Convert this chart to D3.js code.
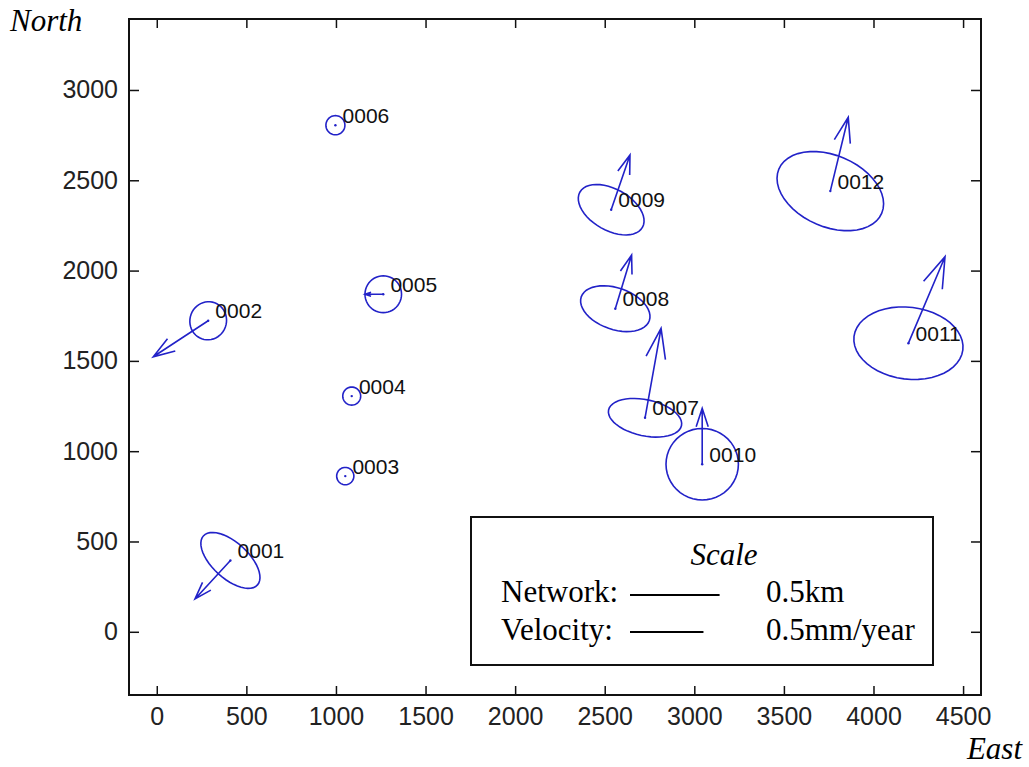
<!DOCTYPE html>
<html>
<head>
<meta charset="utf-8">
<script src="https://cdn.jsdelivr.net/npm/d3@7"></script>
<style>
  body { margin: 0; background: #fff; }
  svg { display: block; }
  .tick text { font-family: "Liberation Sans", Arial, sans-serif; font-size: 25px; fill: #222; }
  .tick line { stroke: #111; stroke-width: 1.5; }
  .serif { font-family: "Liberation Serif", "Times New Roman", serif; fill: #000; }
</style>
</head>
<body>
<svg id="chart" width="1029" height="767"></svg>
<script>
// station data, metres (east / north), error ellipses in metres, velocities in mm/year
var stations = ["0001", "0002", "0003", "0004", "0005", "0006", "0007", "0008", "0009", "0010", "0011", "0012"];
var east = [411, 287, 1052, 1088, 1264, 997, 2725, 2559, 2536, 3044, 4195, 3759];
var north = [395, 1722, 862, 1305, 1869, 2805, 1185, 1789, 2337, 928, 1598, 2440];
var semiMajor = [203, 106, 48, 50, 102, 53, 208, 201, 200, 202, 306, 312];
var semiMinor = [100, 102, 48, 50, 102, 53, 100, 115, 115, 198, 199, 198];
var ellipseAngle = [-42, 70, 0, 0, 0, 0, -12, -19, -29, 0, -7, -23];
var velEast = [-0.241, -0.374, 0, 0, -0.124, 0, 0.109, 0.111, 0.128, 0, 0.249, 0.122];
var velNorth = [-0.260, -0.243, 0, 0, 0, 0, 0.604, 0.362, 0.370, 0.377, 0.584, 0.499];

var xTicks = [0, 500, 1000, 1500, 2000, 2500, 3000, 3500, 4000, 4500];
var yTicks = [0, 500, 1000, 1500, 2000, 2500, 3000];

var networkScale = 500;   // 0.5 km
var velocityScale = 0.5;  // 0.5 mm/year
var velToMetres = 820;    // drawing length of 1 mm/year, in metres

var blue = "#2222c8";
var svg = d3.select("#chart");

var plotLeft = 129, plotRight = 981, plotTop = 19, plotBottom = 695;

var x = d3.scaleLinear().domain([-155, 4600]).range([plotLeft, plotRight]);
var y = d3.scaleLinear().domain([-350, 3393]).range([plotBottom, plotTop]);
var fmt = d3.format("d");

// axes, ticks pointing inwards
svg.append("g")
    .attr("transform", "translate(0," + plotBottom + ")")
    .call(d3.axisBottom(x).tickValues(xTicks).tickFormat(fmt).tickSizeInner(-9).tickSizeOuter(0).tickPadding(12))
    .select(".domain").remove();
svg.append("g")
    .attr("transform", "translate(0," + plotTop + ")")
    .call(d3.axisTop(x).tickValues(xTicks).tickSizeInner(-9).tickSizeOuter(0).tickFormat(""))
    .select(".domain").remove();
svg.append("g")
    .attr("transform", "translate(" + plotLeft + ",0)")
    .call(d3.axisLeft(y).tickValues(yTicks).tickFormat(fmt).tickSizeInner(-10).tickSizeOuter(0).tickPadding(11))
    .select(".domain").remove();
svg.append("g")
    .attr("transform", "translate(" + plotRight + ",0)")
    .call(d3.axisRight(y).tickValues(yTicks).tickSizeInner(-10).tickSizeOuter(0).tickFormat(""))
    .select(".domain").remove();

svg.append("rect")
    .attr("x", plotLeft).attr("y", plotTop)
    .attr("width", plotRight - plotLeft).attr("height", plotBottom - plotTop)
    .attr("fill", "none").attr("stroke", "#111").attr("stroke-width", 2);

var data = stations.map(function (name, i) {
    return {
        name: name, e: east[i], n: north[i],
        a: semiMajor[i], b: semiMinor[i], ang: ellipseAngle[i] * Math.PI / 180,
        ve: velEast[i], vn: velNorth[i]
    };
});

var ellipseLine = d3.line()
    .x(function (p) { return x(p[0]); })
    .y(function (p) { return y(p[1]); })
    .curve(d3.curveLinearClosed);

function ellipsePoints(d) {
    var pts = [];
    for (var k = 0; k < 48; k++) {
        var t = k / 48 * 2 * Math.PI;
        var ca = Math.cos(d.ang), sa = Math.sin(d.ang);
        var px = d.a * Math.cos(t), py = d.b * Math.sin(t);
        pts.push([d.e + px * ca - py * sa, d.n + px * sa + py * ca]);
    }
    return pts;
}

var g = svg.append("g").attr("class", "stations");

g.selectAll("path.ellipse")
    .data(data)
    .enter().append("path")
    .attr("class", "ellipse")
    .attr("d", function (d) { return ellipseLine(ellipsePoints(d)); })
    .attr("fill", "none")
    .attr("stroke", blue)
    .attr("stroke-width", 1.6);

// quiver-style arrows
function arrowPath(d) {
    var u = d.ve * velToMetres, v = d.vn * velToMetres;
    var alpha = 0.33, beta = 0.33;
    var tipE = d.e + u, tipN = d.n + v;
    var b1 = [tipE - alpha * (u + beta * v), tipN - alpha * (v - beta * u)];
    var b2 = [tipE - alpha * (u - beta * v), tipN - alpha * (v + beta * u)];
    return "M" + x(d.e) + "," + y(d.n) + "L" + x(tipE) + "," + y(tipN) +
        "M" + x(b1[0]) + "," + y(b1[1]) + "L" + x(tipE) + "," + y(tipN) +
        "L" + x(b2[0]) + "," + y(b2[1]);
}

g.selectAll("path.arrow")
    .data(data.filter(function (d) { return d.ve !== 0 || d.vn !== 0; }))
    .enter().append("path")
    .attr("class", "arrow")
    .attr("d", arrowPath)
    .attr("fill", "none")
    .attr("stroke", blue)
    .attr("stroke-width", 1.6);

g.selectAll("circle.site")
    .data(data)
    .enter().append("circle")
    .attr("class", "site")
    .attr("cx", function (d) { return x(d.e); })
    .attr("cy", function (d) { return y(d.n); })
    .attr("r", 1.2)
    .attr("fill", blue);

g.selectAll("text.label")
    .data(data)
    .enter().append("text")
    .attr("class", "label")
    .attr("x", function (d) { return x(d.e + 40); })
    .attr("y", function (d) { return y(d.n + 55); })
    .attr("dy", "0.35em")
    .style("font-family", "'Liberation Sans', Arial, sans-serif")
    .style("font-size", "21px")
    .attr("fill", "#111")
    .text(function (d) { return d.name; });

// axis names
svg.append("text").attr("class", "serif")
    .attr("x", 10).attr("y", 31)
    .style("font-size", "31px").style("font-style", "italic")
    .text("North");
svg.append("text").attr("class", "serif")
    .attr("x", 1022).attr("y", 759)
    .attr("text-anchor", "end")
    .style("font-size", "31px").style("font-style", "italic")
    .text("East");

// scale box
var legend = svg.append("g");
legend.append("rect")
    .attr("x", 471).attr("y", 517)
    .attr("width", 462).attr("height", 148)
    .attr("fill", "#fff").attr("stroke", "#111").attr("stroke-width", 2);
legend.append("text").attr("class", "serif")
    .attr("x", 724).attr("y", 565)
    .attr("text-anchor", "middle")
    .style("font-size", "31px").style("font-style", "italic")
    .text("Scale");
legend.append("text").attr("class", "serif")
    .attr("x", 501).attr("y", 602)
    .style("font-size", "31px")
    .text("Network:");
legend.append("text").attr("class", "serif")
    .attr("x", 501).attr("y", 640)
    .style("font-size", "31px")
    .text("Velocity:");
legend.append("text").attr("class", "serif")
    .attr("x", 766).attr("y", 602)
    .style("font-size", "31px")
    .text(networkScale / 1000 + "km");
legend.append("text").attr("class", "serif")
    .attr("x", 766).attr("y", 640)
    .style("font-size", "31px")
    .text(velocityScale + "mm/year");

var lineStart = 630;
legend.append("line")
    .attr("x1", lineStart).attr("x2", lineStart + x(networkScale) - x(0))
    .attr("y1", 595).attr("y2", 595)
    .attr("stroke", "#000").attr("stroke-width", 2);
legend.append("line")
    .attr("x1", lineStart).attr("x2", lineStart + x(velocityScale * velToMetres) - x(0))
    .attr("y1", 632).attr("y2", 632)
    .attr("stroke", "#000").attr("stroke-width", 2);
</script>
</body>
</html>
